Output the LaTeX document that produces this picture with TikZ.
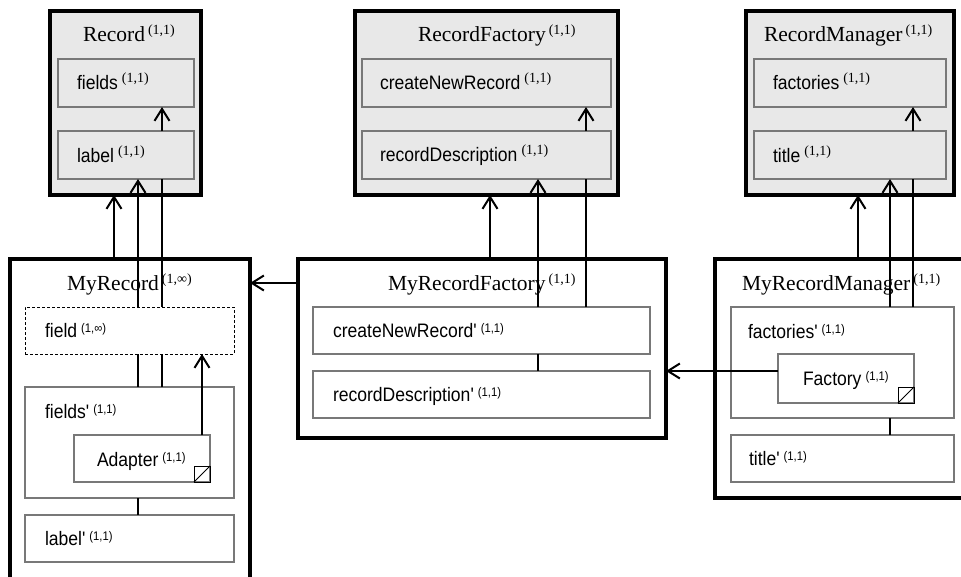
\documentclass[tikz,border=0pt]{standalone}
\usepackage{fontspec}
\setmainfont{Liberation Serif}
\newfontfamily\lsans[FakeStretch=0.9]{Liberation Sans}
\usetikzlibrary{arrows.meta}
\definecolor{boxgray}{RGB}{232,232,232}
\definecolor{edgegray}{RGB}{120,120,120}
\newcommand{\ttl}[2]{{\fontsize{21.5}{24}\selectfont #1\kern3pt\raisebox{6.5pt}{\fontsize{14}{15}\selectfont #2}}}
\newcommand{\lbl}[2]{{\lsans\fontsize{19.5}{22}\selectfont #1\kern4pt\raisebox{6.5pt}{\rmfamily\fontsize{14}{15}\selectfont #2}}}
\newcommand{\lblp}[2]{{\lsans\fontsize{19.5}{22}\selectfont #1\kern4pt\raisebox{5pt}{\fontsize{12.5}{13}\selectfont #2}}}
\begin{document}
\begin{tikzpicture}[x=1pt,y=-1pt,
  outerbox/.style={draw=black, line width=4pt, outer sep=0pt, inner sep=0pt, anchor=north west, rectangle},
  innerbox/.style={draw=edgegray, line width=1.2pt, outer sep=0pt, inner sep=0pt, anchor=north west, rectangle},
  dashbox/.style={draw=black, line width=0.9pt, dash pattern=on 3pt off 2pt, outer sep=0pt, inner sep=0pt, anchor=north west, rectangle},
  txt/.style={anchor=base west, inner sep=0pt, outer sep=0pt},
  conn/.style={line width=2pt},
  arr/.style={line width=2pt, -{Straight Barb[length=12pt,width=15pt]}},
  corner/.style={line width=1pt, draw=black}
]
\useasboundingbox (0,0) rectangle (961,576);
\clip (0,0) rectangle (961,576);
\fill[white] (0,0) rectangle (961,576);

% ---------- outer boxes ----------
\node[outerbox, fill=boxgray, minimum width=151pt, minimum height=184pt] (rec) at (50,11) {};
\node[outerbox, fill=boxgray, minimum width=263pt, minimum height=184pt] (recfac) at (355,11) {};
\node[outerbox, fill=boxgray, minimum width=208pt, minimum height=184pt] (recmgr) at (746,11) {};
\node[outerbox, fill=white, minimum width=240pt, minimum height=360pt] (myrec) at (10,259) {};
\node[outerbox, fill=white, minimum width=368pt, minimum height=179pt] (myfac) at (298,259) {};
\node[outerbox, fill=white, minimum width=270pt, minimum height=239pt] (mymgr) at (715,259) {};

% ---------- inner boxes ----------
\node[innerbox, fill=boxgray, minimum width=136pt, minimum height=48pt] (fields) at (58,59) {};
\node[innerbox, fill=boxgray, minimum width=136pt, minimum height=48pt] (label) at (58,131) {};
\node[innerbox, fill=boxgray, minimum width=249pt, minimum height=48pt] (cnr) at (362,59) {};
\node[innerbox, fill=boxgray, minimum width=249pt, minimum height=48pt] (rd) at (362,131) {};
\node[innerbox, fill=boxgray, minimum width=192pt, minimum height=48pt] (facs) at (754,59) {};
\node[innerbox, fill=boxgray, minimum width=192pt, minimum height=48pt] (title) at (754,131) {};

\node[dashbox, fill=white, minimum width=209pt, minimum height=47pt] (field) at (25,307) {};
\node[innerbox, fill=white, minimum width=209pt, minimum height=111pt] (fieldsp) at (25,387) {};
\node[innerbox, fill=white, minimum width=136pt, minimum height=47pt] (adapter) at (74,435) {};
\node[innerbox, fill=white, minimum width=209pt, minimum height=47pt] (labelp) at (25,515) {};

\node[innerbox, fill=white, minimum width=337pt, minimum height=47pt] (cnrp) at (313,307) {};
\node[innerbox, fill=white, minimum width=337pt, minimum height=47pt] (rdp) at (313,371) {};

\node[innerbox, fill=white, minimum width=223pt, minimum height=111pt] (facsp) at (731,307) {};
\node[innerbox, fill=white, minimum width=136pt, minimum height=49pt] (factory) at (778,354) {};
\node[innerbox, fill=white, minimum width=223pt, minimum height=47pt] (titlep) at (731,435) {};

% corner marks
\draw[corner] (adapter.south east) rectangle ++(-16,-16);
\draw[corner] (adapter.south east) ++(-16,0) -- ++(16,-16);
\draw[corner] (factory.south east) rectangle ++(-16,-16);
\draw[corner] (factory.south east) ++(-16,0) -- ++(16,-16);

% ---------- texts ----------
\node[txt] (t-rec) at (83,41) {\ttl{Record}{(1,1)}};
\node[txt] (t-fields) at (77,89) {\lbl{fields}{(1,1)}};
\node[txt] (t-label) at (77,162) {\lbl{label}{(1,1)}};

\node[txt] (t-recfac) at (418,41) {\ttl{RecordFactory}{(1,1)}};
\node[txt] (t-cnr) at (380,89) {\lbl{createNewRecord}{(1,1)}};
\node[txt] (t-rd) at (380,161) {\lbl{recordDescription}{(1,1)}};

\node[txt] (t-recmgr) at (764,41) {\ttl{RecordManager}{(1,1)}};
\node[txt] (t-facs) at (773,89) {\lbl{factories}{(1,1)}};
\node[txt] (t-title) at (773,162) {\lbl{title}{(1,1)}};

\node[txt] (t-myrec) at (67,290) {\ttl{MyRecord}{(1,∞)}};
\node[txt] (t-field) at (45,337) {\lblp{field}{(1,∞)}};
\node[txt] (t-fieldsp) at (45,418) {\lblp{fields'}{(1,1)}};
\node[txt] (t-adapter) at (97,466) {\lblp{Adapter}{(1,1)}};
\node[txt] (t-labelp) at (45,545) {\lblp{label'}{(1,1)}};

\node[txt] (t-myfac) at (388,290) {\ttl{MyRecordFactory}{(1,1)}};
\node[txt] (t-cnrp) at (333,337) {\lblp{createNewRecord'}{(1,1)}};
\node[txt] (t-rdp) at (333,401) {\lblp{recordDescription'}{(1,1)}};

\node[txt] (t-mymgr) at (742,290) {\ttl{MyRecordManager}{(1,1)}};
\node[txt] (t-facsp) at (748,338) {\lblp{factories'}{(1,1)}};
\node[txt] (t-factory) at (803,385) {\lblp{Factory}{(1,1)}};
\node[txt] (t-titlep) at (749,465) {\lblp{title'}{(1,1)}};

% ---------- column / row coordinates ----------
\coordinate (x114) at (114,0);
\coordinate (x138) at (138,0);
\coordinate (x162) at (162,0);
\coordinate (x202) at (202,0);
\coordinate (x490) at (490,0);
\coordinate (x538) at (538,0);
\coordinate (x586) at (586,0);
\coordinate (x858) at (858,0);
\coordinate (x890) at (890,0);
\coordinate (x913) at (913,0);
\coordinate (y283) at (0,283);
\coordinate (y371) at (0,371);

% ---------- connectors ----------
% Record side
\draw[arr] (myrec.north -| x114) -- (rec.south -| x114);
\draw[arr] (field.north -| x138) -- (label.south -| x138);
\draw[conn] (field.north -| x162) -- (label.south -| x162);
\draw[arr] (label.north -| x162) -- (fields.south -| x162);
\draw[conn] (field.south -| x138) -- (fieldsp.north -| x138);
\draw[conn] (field.south -| x162) -- (fieldsp.north -| x162);
\draw[arr] (adapter.north -| x202) -- (field.south -| x202);
\draw[conn] (fieldsp.south -| x138) -- (labelp.north -| x138);
\draw[arr] (myfac.west |- y283) -- (myrec.east |- y283);

% Factory side
\draw[arr] (myfac.north -| x490) -- (recfac.south -| x490);
\draw[arr] (cnrp.north -| x538) -- (rd.south -| x538);
\draw[conn] (cnrp.north -| x586) -- (rd.south -| x586);
\draw[arr] (rd.north -| x586) -- (cnr.south -| x586);
\draw[conn] (cnrp.south -| x538) -- (rdp.north -| x538);
\draw[arr] (factory.west |- y371) -- (myfac.east |- y371);

% Manager side
\draw[arr] (mymgr.north -| x858) -- (recmgr.south -| x858);
\draw[arr] (facsp.north -| x890) -- (title.south -| x890);
\draw[conn] (facsp.north -| x913) -- (title.south -| x913);
\draw[arr] (title.north -| x913) -- (facs.south -| x913);
\draw[conn] (facsp.south -| x890) -- (titlep.north -| x890);
\end{tikzpicture}
\end{document}
